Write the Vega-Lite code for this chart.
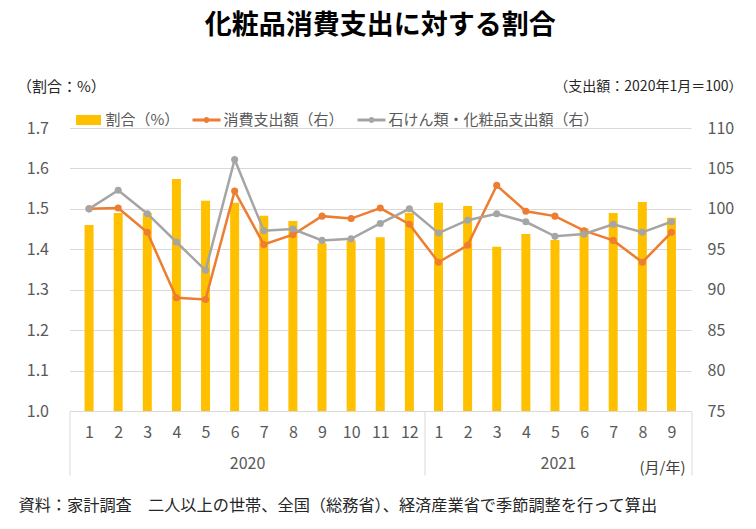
{
  "$schema": "https://vega.github.io/schema/vega-lite/v6.json",
  "width": 621.5,
  "height": 283,
  "autosize": {"type": "none"},
  "padding": {"left": 69.5, "top": 128, "right": 65, "bottom": 118},
  "background": "#ffffff",
  "title": {
    "text": "化粧品消費支出に対する割合",
    "anchor": "middle",
    "frame": "group",
    "font": "Noto Sans CJK JP",
    "fontSize": 27,
    "fontWeight": "bold",
    "color": "#000000",
    "offset": 39
  },
  "config": {
    "view": {"stroke": null},
    "font": "Noto Sans CJK JP",
    "axis": {"labelOverlap": false, "labelSeparation": 0}
  },
  "data": {
    "values": [
      {"i": 0, "year": 2020, "month": 1, "ratio": 1.46, "cons": 100.0, "soap": 100.0},
      {"i": 1, "year": 2020, "month": 2, "ratio": 1.49, "cons": 100.1, "soap": 102.3},
      {"i": 2, "year": 2020, "month": 3, "ratio": 1.49, "cons": 97.1, "soap": 99.4},
      {"i": 3, "year": 2020, "month": 4, "ratio": 1.574, "cons": 89.0, "soap": 95.9},
      {"i": 4, "year": 2020, "month": 5, "ratio": 1.52, "cons": 88.8, "soap": 92.4},
      {"i": 5, "year": 2020, "month": 6, "ratio": 1.515, "cons": 102.2, "soap": 106.1},
      {"i": 6, "year": 2020, "month": 7, "ratio": 1.483, "cons": 95.6, "soap": 97.3},
      {"i": 7, "year": 2020, "month": 8, "ratio": 1.47, "cons": 96.8, "soap": 97.5},
      {"i": 8, "year": 2020, "month": 9, "ratio": 1.415, "cons": 99.1, "soap": 96.1},
      {"i": 9, "year": 2020, "month": 10, "ratio": 1.422, "cons": 98.8, "soap": 96.3},
      {"i": 10, "year": 2020, "month": 11, "ratio": 1.43, "cons": 100.1, "soap": 98.2},
      {"i": 11, "year": 2020, "month": 12, "ratio": 1.49, "cons": 98.1, "soap": 100.0},
      {"i": 12, "year": 2021, "month": 1, "ratio": 1.515, "cons": 93.4, "soap": 97.0},
      {"i": 13, "year": 2021, "month": 2, "ratio": 1.507, "cons": 95.5, "soap": 98.6},
      {"i": 14, "year": 2021, "month": 3, "ratio": 1.406, "cons": 102.9, "soap": 99.4},
      {"i": 15, "year": 2021, "month": 4, "ratio": 1.438, "cons": 99.7, "soap": 98.4},
      {"i": 16, "year": 2021, "month": 5, "ratio": 1.423, "cons": 99.1, "soap": 96.6},
      {"i": 17, "year": 2021, "month": 6, "ratio": 1.452, "cons": 97.3, "soap": 96.9},
      {"i": 18, "year": 2021, "month": 7, "ratio": 1.49, "cons": 96.1, "soap": 98.1},
      {"i": 19, "year": 2021, "month": 8, "ratio": 1.517, "cons": 93.4, "soap": 97.1},
      {"i": 20, "year": 2021, "month": 9, "ratio": 1.478, "cons": 97.1, "soap": 98.4}
    ]
  },
  "layer": [
    {
      "layer": [
        {
          "mark": {"type": "bar", "size": 9, "orient": "vertical"},
          "encoding": {
            "x": {
              "field": "i", "type": "quantitative",
              "scale": {"domain": [-0.5, 20.5], "nice": false, "zero": false},
              "axis": {
                "values": [0,1,2,3,4,5,6,7,8,9,10,11,12,13,14,15,16,17,18,19,20],
                "labelExpr": "datum.value < 12 ? '' + (datum.value + 1) : '' + (datum.value - 11)",
                "ticks": false, "grid": false,
                "domainColor": "#D9D9D9", "domainWidth": 1,
                "labelPadding": 13, "labelFontSize": 16, "labelColor": "#595959",
                "labelFont": "Noto Sans CJK JP",
                "labelFlush": false, "labelOverlap": false, "labelSeparation": 0,
                "title": "(月/年)", "titleX": 615.5, "titleY": 56,
                "titleAlign": "right", "titleBaseline": "middle",
                "titleFontSize": 15, "titleFontWeight": "normal", "titleColor": "#404040",
                "titleFont": "Noto Sans CJK JP"
              }
            },
            "y": {
              "field": "ratio", "type": "quantitative",
              "scale": {"domain": [1.0, 1.7], "nice": false, "zero": false},
              "axis": {
                "values": [1.0, 1.1, 1.2, 1.3, 1.4, 1.5, 1.6, 1.7],
                "format": ".1f", "orient": "left",
                "domain": false, "ticks": false,
                "grid": true, "gridColor": "#D9D9D9", "gridWidth": 1,
                "labelPadding": 21, "labelFontSize": 16, "labelColor": "#595959",
                "labelFont": "Noto Sans CJK JP",
                "title": "（割合：%）", "titleAngle": 0, "titleAlign": "left", "titleBaseline": "middle",
                "titleX": -53, "titleY": -42,
                "titleFontSize": 15, "titleFontWeight": "normal", "titleColor": "#262626",
                "titleFont": "Noto Sans CJK JP"
              }
            },
            "y2": {"datum": 1.0},
            "color": {
              "datum": "割合（%）",
              "scale": {
                "domain": ["割合（%）", "消費支出額（右）", "石けん類・化粧品支出額（右）"],
                "range": ["#FFC000", "#ED7D31", "#A5A5A5"]
              },
              "legend": {
                "orient": "none", "direction": "horizontal",
                "legendX": 5, "legendY": -22,
                "title": null,
                "labelFontSize": 15, "labelColor": "#595959", "labelFont": "Noto Sans CJK JP",
                "labelOffset": 3, "columnPadding": 13, "labelLimit": 400,
                "symbolSize": 784, "symbolStrokeWidth": 0,
                "encode": {
                  "symbols": {
                    "update": {
                      "shape": {"signal": "datum.value === '割合（%）' ? 'M-0.89,-0.36H0.89V0.36H-0.89Z' : 'M-1,-0.1H1V0.1H-1Z M-0.21,0A0.21,0.21 0 1,1 0.21,0A0.21,0.21 0 1,1 -0.21,0Z'"},
                      "fill": {"signal": "datum.value === '割合（%）' ? '#FFC000' : datum.value === '消費支出額（右）' ? '#ED7D31' : '#A5A5A5'"},
                      "strokeWidth": {"value": 0},
                      "size": {"value": 784},
                      "opacity": {"value": 1}
                    }
                  }
                }
              }
            }
          }
        },
        {
          "layer": [
            {
              "mark": {"type": "line", "strokeWidth": 2.5, "point": {"filled": true, "size": 50}},
              "encoding": {
                "x": {
                  "field": "i", "type": "quantitative",
                  "axis": {
                    "values": [0,1,2,3,4,5,6,7,8,9,10,11,12,13,14,15,16,17,18,19,20],
                    "labelOverlap": false, "labelSeparation": 0, "labelFlush": false
                  }
                },
                "y": {
                  "field": "cons", "type": "quantitative",
                  "scale": {"domain": [75, 110], "nice": false, "zero": false},
                  "axis": {
                    "orient": "right",
                    "values": [75, 80, 85, 90, 95, 100, 105, 110],
                    "domain": false, "ticks": false, "grid": false,
                    "labelPadding": 16, "labelFontSize": 16, "labelColor": "#595959",
                    "labelFont": "Noto Sans CJK JP",
                    "title": "（支出額：2020年1月＝100）", "titleAngle": 0, "titleAlign": "right", "titleBaseline": "middle",
                    "titleX": 51, "titleY": -42,
                    "titleFontSize": 14, "titleFontWeight": "normal", "titleColor": "#262626",
                    "titleFont": "Noto Sans CJK JP"
                  }
                },
                "color": {"datum": "消費支出額（右）"}
              }
            },
            {
              "mark": {"type": "line", "strokeWidth": 2.5, "point": {"filled": true, "size": 50}},
              "encoding": {
                "x": {
                  "field": "i", "type": "quantitative",
                  "axis": {
                    "values": [0,1,2,3,4,5,6,7,8,9,10,11,12,13,14,15,16,17,18,19,20],
                    "labelOverlap": false, "labelSeparation": 0, "labelFlush": false
                  }
                },
                "y": {"field": "soap", "type": "quantitative"},
                "color": {"datum": "石けん類・化粧品支出額（右）"}
              }
            }
          ]
        }
      ],
      "resolve": {"scale": {"y": "independent"}}
    },
    {
      "mark": {"type": "point", "opacity": 0},
      "encoding": {
        "x": {
          "field": "i", "type": "quantitative",
          "scale": {"domain": [-0.5, 20.5], "nice": false, "zero": false},
          "axis": {
            "orient": "bottom",
            "values": [-0.5, 5.5, 11.5, 16, 20.5],
            "labelExpr": "datum.value == 5.5 ? '2020' : datum.value == 16 ? '2021' : ''",
            "domain": false, "grid": false,
            "ticks": true, "tickSize": 64, "tickWidth": 1,
            "tickColor": {"condition": {"test": "datum.value == 5.5 || datum.value == 16", "value": "rgba(0,0,0,0)"}, "value": "#D9D9D9"},
            "labelPadding": -20, "labelFontSize": 16, "labelColor": "#595959",
            "labelFont": "Noto Sans CJK JP",
            "labelFlush": false, "labelOverlap": false, "labelBound": false,
            "title": "資料：家計調査　二人以上の世帯、全国（総務省）、経済産業省で季節調整を行って算出",
            "titleX": -51.5, "titleY": 94, "titleAlign": "left", "titleBaseline": "middle",
            "titleFontSize": 16.2, "titleFontWeight": "normal", "titleColor": "#262626",
            "titleFont": "Noto Sans CJK JP"
          }
        }
      }
    }
  ],
  "resolve": {"scale": {"x": "independent"}}
}
